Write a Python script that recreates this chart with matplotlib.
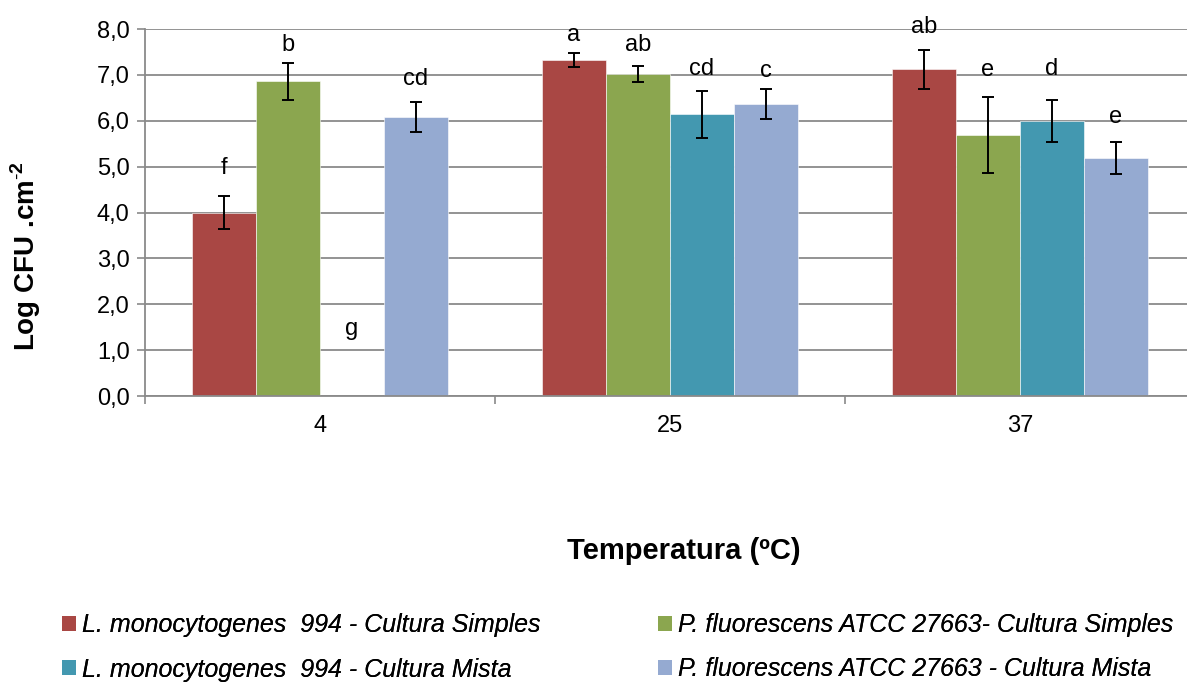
import matplotlib
matplotlib.use("Agg")
import matplotlib.pyplot as plt
import numpy as np
from matplotlib.patches import Patch

plt.rcParams['font.family'] = ['Liberation Sans', 'DejaVu Sans']
plt.rcParams['mathtext.fontset'] = 'custom'
plt.rcParams['mathtext.rm'] = 'Liberation Sans'
plt.rcParams['mathtext.bf'] = 'Liberation Sans:bold'

categories = ["4", "25", "37"]
series_names = [
    "L. monocytogenes  994 - Cultura Simples",
    "P. fluorescens ATCC 27663- Cultura Simples",
    "L. monocytogenes  994 - Cultura Mista",
    "P. fluorescens ATCC 27663 - Cultura Mista",
]
lm_simples = [4.00, 7.32, 7.12]
pf_simples = [6.86, 7.02, 5.69]
lm_mista = [0.00, 6.14, 5.99]
pf_mista = [6.08, 6.36, 5.19]
values = [lm_simples, pf_simples, lm_mista, pf_mista]

lm_simples_err = [0.35, 0.15, 0.42]
pf_simples_err = [0.40, 0.17, 0.82]
lm_mista_err = [None, 0.51, 0.46]
pf_mista_err = [0.33, 0.33, 0.35]
errors = [lm_simples_err, pf_simples_err, lm_mista_err, pf_mista_err]

lm_simples_lab = ["f", "a", "ab"]
pf_simples_lab = ["b", "ab", "e"]
lm_mista_lab = ["g", "cd", "d"]
pf_mista_lab = ["cd", "c", "e"]
labels = [lm_simples_lab, pf_simples_lab, lm_mista_lab, pf_mista_lab]
lm_simples_laby = [4.98, 7.87, 8.05]
pf_simples_laby = [7.65, 7.65, 7.10]
lm_mista_laby = [1.45, 7.13, 7.12]
pf_mista_laby = [6.92, 7.08, 6.08]
label_ys = [lm_simples_laby, pf_simples_laby, lm_mista_laby, pf_mista_laby]

colors = ["#A94744", "#8BA64F", "#4398B0", "#95AAD1"]

fig = plt.figure(figsize=(11.87, 6.86), dpi=100)
ax = fig.add_axes([145/1187, 1-396/686, 1050/1187, 367/686])

x = np.arange(len(categories))
w = 64/350
for i in range(4):
    pos = x + (i - 1.5) * w
    ax.bar(pos, values[i], width=w, color=colors[i], edgecolor='white',
           linewidth=0.4, zorder=2)
    for j in range(len(categories)):
        e = errors[i][j]
        if e is not None:
            ax.errorbar(pos[j], values[i][j], yerr=e, fmt='none', ecolor='black',
                        elinewidth=1.4, capsize=4, capthick=1.4, zorder=3)
        ax.text(pos[j], label_ys[i][j], labels[i][j], ha='center', va='center',
                fontsize=17, zorder=4)

ax.set_ylim(0, 8)
ax.set_xlim(-0.5, 2.5)
ax.set_yticks(np.arange(0, 8.1, 1.0))
ax.set_yticklabels([f"{v:.1f}".replace('.', ',') for v in np.arange(0, 8.1, 1.0)],
                   fontsize=17)
ax.yaxis.grid(True, color='#8a8a8a', linewidth=1.3, zorder=0)
ax.set_axisbelow(True)

ax.set_xticks([-0.5, 0.5, 1.5, 2.5])
ax.set_xticklabels([])
ax.set_xticks(x, minor=True)
ax.set_xticklabels(categories, minor=True, fontsize=17)
ax.tick_params(axis='x', which='minor', length=0, pad=14)
ax.tick_params(axis='x', which='major', length=6, color='#8a8a8a', width=1.2)
ax.tick_params(axis='y', length=6, color='#8a8a8a', width=1.2, pad=5)

for s in ['top', 'right']:
    ax.spines[s].set_visible(False)
ax.spines['left'].set_color('#8a8a8a')
ax.spines['left'].set_linewidth(1.3)
ax.spines['bottom'].set_color('#8a8a8a')
ax.spines['bottom'].set_linewidth(1.3)

fig.text(26/1187, 1-256/686, r"Log CFU .cm$^{\mathbf{\text{-}2}}$", rotation=90,
         ha='center', va='center', fontsize=20, fontweight='bold')
fig.text(684/1187, 1-551/686, "Temperatura (ºC)", ha='center', va='center',
         fontsize=21, fontweight='bold')

order_cols = [[0, 2], [1, 3]]
anchors_x = [62, 658]
for col, ax_x in zip(order_cols, anchors_x):
    handles = [Patch(facecolor=colors[i], edgecolor='none') for i in col]
    names = [series_names[i] for i in col]
    leg = fig.legend(handles, names, ncol=1, loc='upper left',
                     bbox_to_anchor=(ax_x/1187, 1-613/686), frameon=False,
                     prop={'style': 'italic', 'size': 18},
                     handlelength=0.55, handleheight=0.55, handletextpad=0.25,
                     labelspacing=0.82, borderaxespad=0, borderpad=0)
    fig.add_artist(leg)

fig.savefig("out.png", dpi=100)
